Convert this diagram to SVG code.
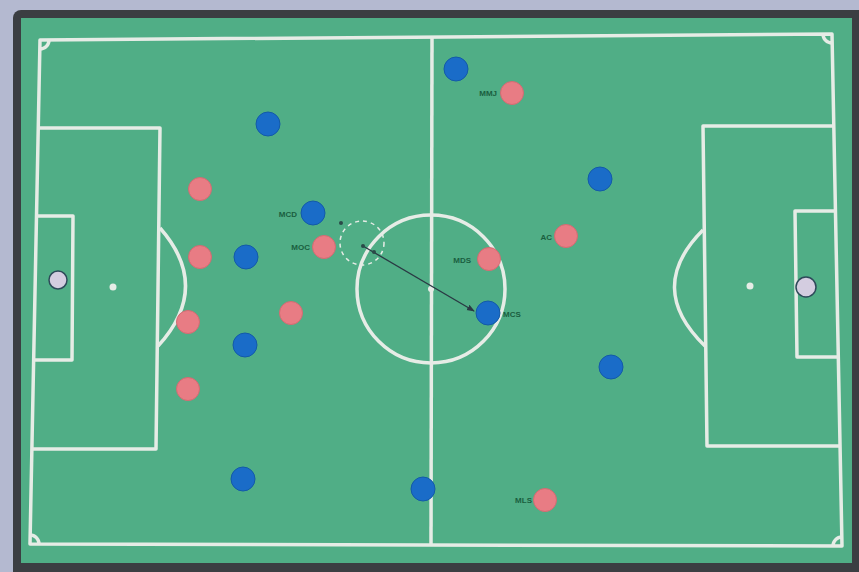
<svg xmlns="http://www.w3.org/2000/svg" width="859" height="572" viewBox="0 0 859 572">
<defs>
<style>
.ln{fill:none;stroke:#e6ece6;stroke-width:3.5;stroke-linejoin:round}
.bl{fill:#1a6cc8;stroke:#135aa8;stroke-width:1}
.pk{fill:#e87c84;stroke:#d46a72;stroke-width:1}
.lb{font-family:"Liberation Sans",Arial,sans-serif;font-size:8px;font-weight:bold;fill:#1a5e40}
.gl{fill:#d4cde0;stroke:#2e4a5a;stroke-width:1.5}
</style>
<marker id="ah" markerWidth="8" markerHeight="8" refX="7" refY="4" orient="auto" markerUnits="userSpaceOnUse">
<path d="M0,1 L8,4 L0,7 Z" fill="#2a3a44"/>
</marker>
</defs>
<rect x="0" y="0" width="859" height="572" fill="#b4b9d0"/>
<rect x="13" y="10" width="860" height="570" rx="8" fill="#3b3e42"/>
<rect x="21" y="18" width="831" height="545" fill="#50ae86"/>
<g id="pitch">
<polygon class="ln" points="40,40 832,34 842,546 30,544"/>
<line class="ln" x1="432" y1="37" x2="431" y2="545"/>
<circle class="ln" cx="431" cy="289" r="74"/>
<circle cx="431" cy="289" r="3" fill="#e6ece6"/>
<polyline class="ln" points="39,128 160,128 156,449 31,449"/>
<polyline class="ln" points="36,216 73,216 72,360 34,360"/>
<path class="ln" d="M160,228 Q212,287 158,346"/>
<circle cx="113" cy="287" r="3.5" fill="#e6ece6"/>
<polyline class="ln" points="834,126 703,126 707,446 840,446"/>
<polyline class="ln" points="836,211 795,211 797,357 838,357"/>
<path class="ln" d="M703,230 Q645,288 705,346"/>
<circle cx="750" cy="286" r="3.5" fill="#e6ece6"/>
<path class="ln" d="M40,49 A9,9 0 0 0 49,40"/>
<path class="ln" d="M823,34 A9,9 0 0 0 832,43"/>
<path class="ln" d="M30,535 A9,9 0 0 1 39,544"/>
<path class="ln" d="M833,546 A9,9 0 0 1 842,537"/>
<circle class="gl" cx="58" cy="280" r="9"/>
<circle class="gl" cx="806" cy="287" r="10"/>
</g>
<g id="connectors">
<circle cx="362" cy="243" r="22" fill="none" stroke="#e6ece6" stroke-width="1.5" stroke-dasharray="4,4"/>
<line x1="363" y1="246" x2="474" y2="311" stroke="#2a3a44" stroke-width="1.3" marker-end="url(#ah)"/>
<circle cx="341" cy="223" r="2" fill="#2a4a48"/>
<circle cx="363" cy="246" r="2" fill="#2a4a48"/>
<circle cx="374" cy="252" r="2" fill="#2a4a48"/>
</g>
<g id="blue-players">
<circle id="b1" class="bl" cx="456" cy="69" r="12"/>
<circle id="b2" class="bl" cx="268" cy="124" r="12"/>
<circle id="b3" class="bl" cx="313" cy="213" r="12"/>
<circle id="b4" class="bl" cx="246" cy="257" r="12"/>
<circle id="b5" class="bl" cx="600" cy="179" r="12"/>
<circle id="b6" class="bl" cx="488" cy="313" r="12"/>
<circle id="b7" class="bl" cx="245" cy="345" r="12"/>
<circle id="b8" class="bl" cx="611" cy="367" r="12"/>
<circle id="b9" class="bl" cx="243" cy="479" r="12"/>
<circle id="b10" class="bl" cx="423" cy="489" r="12"/>
</g>
<g id="pink-players">
<circle id="p1" class="pk" cx="512" cy="93" r="11.5"/>
<circle id="p2" class="pk" cx="200" cy="189" r="11.5"/>
<circle id="p3" class="pk" cx="200" cy="257" r="11.5"/>
<circle id="p4" class="pk" cx="324" cy="247" r="11.5"/>
<circle id="p5" class="pk" cx="489" cy="259" r="11.5"/>
<circle id="p6" class="pk" cx="566" cy="236" r="11.5"/>
<circle id="p7" class="pk" cx="188" cy="322" r="11.5"/>
<circle id="p8" class="pk" cx="291" cy="313" r="11.5"/>
<circle id="p9" class="pk" cx="188" cy="389" r="11.5"/>
<circle id="p10" class="pk" cx="545" cy="500" r="11.5"/>
</g>
<g id="labels">
<text class="lb" x="297" y="217" text-anchor="end">MCD</text>
<text class="lb" x="310" y="250" text-anchor="end">MOC</text>
<text class="lb" x="471" y="263" text-anchor="end">MDS</text>
<text class="lb" x="503" y="317">MCS</text>
<text class="lb" x="497" y="96" text-anchor="end">MMJ</text>
<text class="lb" x="552" y="240" text-anchor="end">AC</text>
<text class="lb" x="532" y="503" text-anchor="end">MLS</text>
</g>
</svg>
